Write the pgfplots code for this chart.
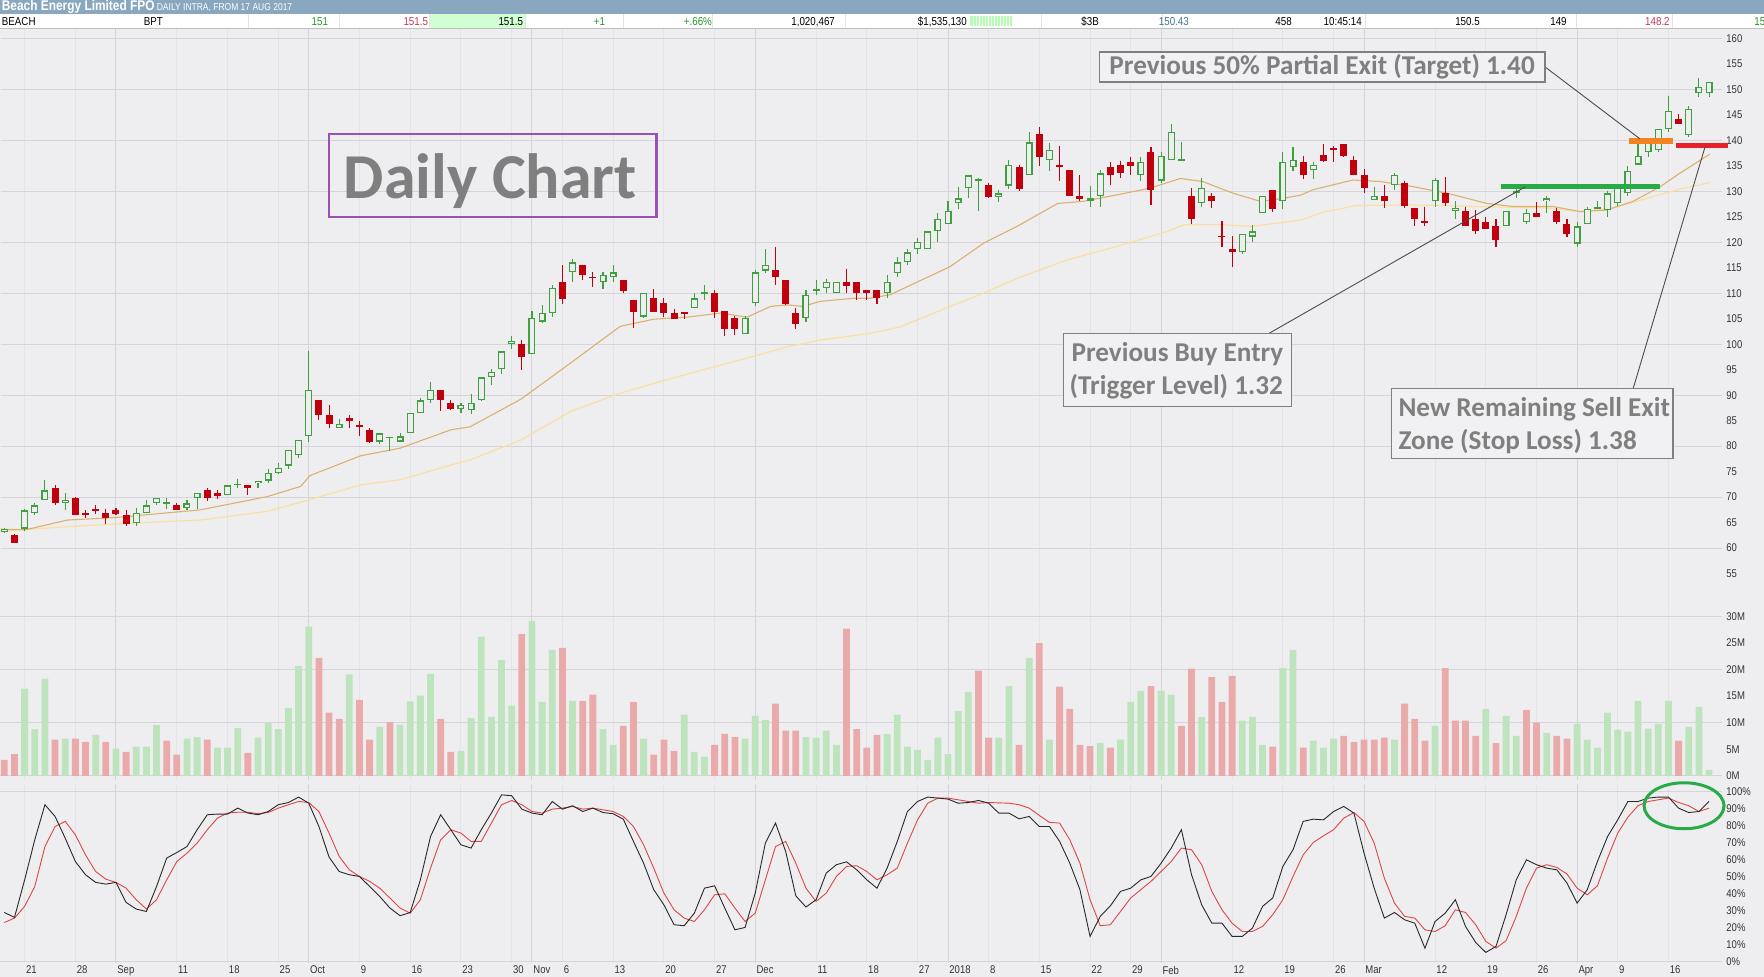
\documentclass[border=0pt]{standalone}
\usepackage{pgfplots}
\pgfplotsset{compat=1.18}
\usepackage{pgfplotstable}
\usepackage{fontspec}
\setmainfont{Liberation Sans}
\newfontfamily\nar[FakeStretch=0.85]{Liberation Sans}
\newfontfamily\calib{Carlito}

\definecolor{bg}{RGB}{238,238,241}
\definecolor{gw}{RGB}{227,227,232}
\definecolor{gm}{RGB}{212,212,218}
\definecolor{cg}{RGB}{64,160,64}
\definecolor{cr}{RGB}{192,0,12}
\definecolor{vg}{RGB}{190,228,190}
\definecolor{vr}{RGB}{234,170,170}
\definecolor{maa}{RGB}{220,176,110}
\definecolor{mab}{RGB}{250,224,160}
\definecolor{sk}{RGB}{40,40,40}
\definecolor{sd}{RGB}{222,70,70}
\definecolor{hdr}{RGB}{137,168,192}
\definecolor{ann}{RGB}{127,127,127}
\definecolor{purp}{RGB}{155,80,180}
\definecolor{gbar}{RGB}{40,170,70}
\definecolor{obar}{RGB}{245,130,32}
\definecolor{rbar}{RGB}{232,32,42}
\definecolor{tgreen}{RGB}{40,150,40}
\definecolor{tred}{RGB}{190,60,90}
\definecolor{tteal}{RGB}{60,120,140}

% i o h l c u(up candle) vu(up volume) v(volume, M) k d (stochastic %)
\pgfplotstableread{
i o h l c u vu v k d
1 63.2 64.0 63.0 63.8 1 0 3.0 28.8 22.9
2 62.6 62.8 61.0 61.0 0 0 4.1 25.9 25.5
3 63.8 67.7 63.4 67.4 1 1 16.4 48.0 32.4
4 66.8 68.8 66.4 68.4 1 1 8.8 71.6 44.1
5 69.4 73.4 69.4 71.3 1 1 18.3 92.2 67.6
6 71.75 72.3 68.4 68.8 0 0 6.8 85.3 79.4
7 68.8 70.8 67.4 69.4 1 1 7.0 72.5 82.4
8 69.8 70.0 66.4 66.4 0 0 7.0 58.8 74.5
9 66.7 67.5 66.0 66.7 0 0 6.4 51.0 62.7
10 67.5 68.4 66.7 67.5 0 1 7.7 46.5 52.9
11 66.85 67.6 64.8 65.9 0 0 6.4 45.5 48.4
12 67.5 67.8 66.5 66.7 0 1 5.1 46.5 46.5
13 66.5 67.5 64.4 64.8 0 0 4.5 34.7 43.1
14 64.9 67.8 64.4 66.85 1 1 5.5 30.8 36.3
15 66.85 69.5 66.85 68.4 1 1 5.5 29.4 30.8
16 68.8 69.8 68.5 69.8 1 1 9.6 44.1 36.3
17 68.8 69.8 67.7 68.8 1 0 6.6 60.8 48.0
18 68.5 68.8 67.4 67.4 0 0 4.0 64.1 58.8
19 67.8 69.5 67.5 68.8 1 1 7.0 67.6 63.7
20 69.8 70.8 67.7 70.8 1 1 7.3 77.5 69.6
21 71.4 71.7 69.3 69.8 0 0 6.8 86.3 77.5
22 70.9 71.4 69.6 70.3 0 1 5.3 86.7 84.3
23 70.4 72.3 70.4 72.3 1 1 5.3 86.7 87.3
24 72.5 73.6 71.75 72.5 1 1 9.0 90.2 87.8
25 72.3 72.3 70.4 71.7 0 0 4.3 87.3 87.8
26 72.7 73.25 71.7 73.25 1 1 7.2 86.3 86.9
27 73.25 75.5 72.7 74.7 1 1 10.1 88.2 87.6
28 74.7 76.65 74.5 75.8 1 1 8.8 92.2 90.2
29 76.2 79.3 75.6 79.3 1 1 12.8 93.5 92.2
30 78.2 81.2 77.6 81.2 1 1 20.7 96.7 94.1
31 81.9 98.7 80.9 91.0 1 1 28.1 93.1 93.5
32 89.0 89.0 85.2 86.1 0 0 22.2 79.4 88.2
33 86.1 88.1 83.5 84.4 0 0 11.9 61.4 75.5
34 83.5 85.4 83.5 84.4 1 0 10.7 52.9 61.8
35 85.6 86.1 83.5 85.0 0 1 19.1 51.0 53.9
36 84.0 85.0 81.9 84.0 0 0 14.3 50.0 50.0
37 83.1 83.5 80.7 80.9 0 0 6.8 44.1 47.1
38 80.9 82.5 80.4 82.5 1 1 9.2 38.2 43.1
39 81.7 81.7 79.0 81.7 1 0 10.1 31.4 37.3
40 80.9 82.5 80.9 81.9 1 1 9.6 26.9 31.4
41 82.5 86.5 82.5 86.5 1 1 14.0 28.8 28.4
42 86.5 89.4 86.5 89.0 1 1 15.1 48.0 36.3
43 89.0 92.5 88.4 91.0 1 1 19.2 73.5 54.9
44 91.0 91.0 86.9 89.0 0 0 10.7 86.3 71.6
45 88.5 89.1 87.1 87.3 0 0 4.5 77.5 77.5
46 87.3 88.4 86.5 88.1 1 1 4.7 68.6 75.5
47 87.0 90.3 86.3 88.5 1 1 10.9 66.7 70.6
48 89.0 93.5 88.8 93.5 1 1 26.2 77.5 70.6
49 93.5 95.1 92.0 94.5 1 1 11.1 87.3 81.4
50 95.1 98.6 94.2 98.6 1 1 21.8 98.0 92.2
51 100.0 101.6 99.0 100.6 1 1 13.2 97.5 94.7
52 100.0 100.8 95.0 97.4 0 0 26.7 89.6 92.2
53 98.0 106.5 98.0 105.1 1 1 29.2 87.3 88.2
54 104.4 107.7 104.1 106.1 1 1 13.9 86.3 87.3
55 106.1 111.6 105.4 111.0 1 1 23.7 94.1 89.6
56 112.2 115.5 107.9 108.9 0 0 24.1 89.6 90.2
57 114.1 116.7 112.2 116.07 1 1 14.1 91.6 91.2
58 115.5 115.5 112.5 113.5 0 0 14.1 88.2 89.6
59 113.1 114.1 111.2 113.1 0 0 15.3 90.2 90.2
60 112.2 114.1 110.8 113.6 1 1 8.8 87.6 89.2
61 113.1 115.5 112.2 114.1 1 1 5.8 86.9 88.2
62 112.6 112.6 110.0 110.4 0 0 9.4 83.7 85.3
63 108.7 108.7 103.1 106.4 0 0 13.9 70.6 79.4
64 105.4 110.0 105.1 110.0 1 1 7.0 57.8 68.6
65 109.0 110.8 106.4 106.4 0 0 4.0 42.2 54.9
66 108.0 109.0 105.4 106.1 0 0 6.8 33.3 40.2
67 106.1 106.8 104.9 104.9 0 0 4.7 21.6 30.4
68 106.1 106.1 104.9 106.1 0 1 11.5 21.0 25.5
69 107.0 110.0 107.0 109.0 1 1 4.5 28.4 23.5
70 110.0 111.6 108.7 110.0 1 1 3.6 43.1 30.4
71 110.0 110.6 105.1 106.4 0 0 5.8 44.5 39.2
72 106.5 106.5 101.6 103.0 0 0 7.9 31.4 39.8
73 105.1 105.5 101.8 103.0 0 0 7.3 18.6 31.4
74 102.0 105.5 102.0 105.1 1 1 7.0 20.0 23.5
75 108.0 114.6 107.4 114.1 1 1 11.3 40.2 28.4
76 114.4 118.7 114.0 115.5 1 1 10.5 69.6 48.0
77 114.6 119.1 111.6 113.1 0 0 13.6 81.4 67.6
78 112.6 112.6 107.7 107.9 0 0 8.5 64.7 70.6
79 106.1 107.0 103.0 104.0 0 0 8.5 38.6 57.8
80 105.1 110.6 104.4 109.6 1 1 7.3 32.0 43.1
81 110.6 112.6 109.7 110.6 1 1 7.2 36.3 35.3
82 111.0 112.8 110.0 112.2 1 1 8.5 52.0 40.2
83 110.0 112.2 110.0 112.2 1 1 5.8 56.9 50.0
84 112.2 114.8 110.0 111.5 0 0 27.7 58.6 55.9
85 112.2 112.2 108.7 110.0 0 0 8.8 53.9 56.3
86 110.65 110.65 108.7 110.0 0 0 5.3 48.0 52.9
87 110.65 110.65 107.9 109.0 0 0 7.7 43.1 48.0
88 110.0 113.6 109.0 112.15 1 1 7.9 54.9 51.0
89 114.0 117.1 113.1 116.07 1 1 11.5 70.6 54.9
90 116.07 118.6 115.5 118.0 1 1 5.5 88.2 69.6
91 118.6 120.9 117.6 120.0 1 1 4.9 94.1 83.3
92 118.6 122.15 118.6 122.15 1 1 3.0 96.7 93.1
93 122.15 125.7 120.0 124.6 1 1 7.2 96.1 96.1
94 123.5 128.1 123.5 126.1 1 1 4.1 95.5 96.1
95 127.6 130.8 126.6 128.6 1 1 12.2 93.1 95.1
96 130.6 133.1 128.6 133.1 1 1 15.8 93.5 94.1
97 132.2 132.5 126.1 132.2 1 0 19.8 94.7 93.1
98 131.2 131.6 128.6 128.9 0 0 7.2 93.1 93.5
99 128.9 130.3 127.8 129.6 1 1 7.2 87.3 93.3
100 131.1 136.1 130.5 135.2 1 1 16.9 87.3 93.1
101 134.7 135.2 130.1 130.5 0 0 5.8 83.9 92.2
102 133.1 141.6 133.1 139.6 1 1 22.2 85.3 90.2
103 141.2 142.5 135.0 136.7 0 0 25.0 79.4 85.9
104 136.1 139.5 134.0 138.1 1 1 6.8 79.4 81.8
105 135.2 138.9 132.1 134.7 0 0 16.8 70.6 81.4
106 134.2 134.2 129.0 129.0 0 0 12.6 57.8 71.6
107 129.1 133.1 128.1 128.4 0 0 5.8 42.2 57.8
108 128.1 131.1 127.0 128.6 1 0 5.6 14.7 36.3
109 129.0 134.2 127.0 133.5 1 1 6.2 26.5 21.0
110 134.7 135.7 131.2 133.1 0 0 5.3 32.7 21.6
111 135.2 136.0 132.5 133.5 0 1 6.8 41.2 29.4
112 135.7 136.8 133.1 135.0 0 1 13.9 43.1 37.3
113 133.1 136.8 132.1 135.7 1 1 16.0 48.0 42.2
114 137.6 138.6 127.2 130.3 0 0 16.9 50.0 47.1
115 132.1 137.6 131.6 137.0 1 1 16.0 57.8 52.9
116 136.1 143.1 136.1 141.6 1 1 15.3 66.7 58.8
117 136.1 139.6 136.1 136.1 1 0 9.4 77.5 66.7
118 129.1 130.6 123.5 124.5 0 0 20.2 51.0 65.7
119 127.6 132.5 127.0 130.6 1 1 11.1 33.3 56.9
120 129.1 129.6 126.7 128.0 0 0 18.6 22.5 41.2
121 121.1 124.2 119.0 121.1 0 0 13.9 22.5 30.4
122 118.6 121.2 115.1 118.0 0 0 18.8 14.7 22.5
123 118.0 121.6 117.6 121.6 1 1 10.4 14.7 17.6
124 121.1 123.3 120.0 122.15 1 1 11.1 19.6 17.6
125 125.7 129.1 125.7 129.1 1 1 5.8 32.4 20.6
126 130.3 130.3 126.0 126.5 0 0 5.5 37.3 27.5
127 128.1 137.6 126.5 135.7 1 1 20.3 55.9 36.3
128 134.7 138.6 134.0 136.1 1 1 23.7 65.7 50.0
129 135.7 137.0 132.4 133.1 0 0 5.3 82.4 62.7
130 134.2 135.7 132.4 135.2 1 1 6.6 83.7 70.0
131 137.1 139.2 135.7 136.0 0 1 5.3 83.3 73.9
132 138.3 138.8 135.7 138.3 0 1 7.0 88.2 77.5
133 139.2 139.2 136.7 137.0 0 0 7.5 91.2 84.3
134 136.1 137.0 133.1 133.1 0 0 6.4 87.3 87.6
135 133.2 134.3 129.6 130.6 0 0 6.8 63.7 82.4
136 128.2 130.9 128.2 129.1 1 0 6.8 43.1 69.6
137 129.1 131.2 126.7 128.1 0 0 7.2 25.5 49.0
138 131.2 133.5 130.3 133.2 1 1 6.8 28.8 34.3
139 131.7 132.1 126.7 127.1 0 0 13.6 24.5 26.5
140 126.7 126.7 123.2 124.5 0 0 10.7 22.5 25.5
141 124.0 127.0 123.2 124.0 0 0 6.6 7.8 18.6
142 128.0 132.5 127.0 132.2 1 1 9.4 23.5 17.6
143 129.6 132.7 127.1 127.6 0 0 20.3 28.4 21.0
144 126.1 128.0 124.5 126.7 1 0 10.4 36.3 30.4
145 126.1 127.0 123.1 123.1 0 0 10.4 20.6 28.8
146 124.5 126.3 121.6 122.1 0 0 7.5 11.2 21.6
147 124.0 125.0 122.5 122.5 0 1 12.6 5.3 11.8
148 123.1 124.5 119.0 120.5 0 0 6.2 8.8 7.8
149 123.2 126.1 123.2 126.1 1 1 11.3 27.5 12.2
150 129.6 130.5 128.6 130.0 1 1 7.5 48.0 26.5
151 124.0 126.5 123.6 125.8 1 0 12.4 59.8 43.1
152 125.8 127.8 125.0 125.0 0 0 10.0 56.9 54.9
153 128.0 129.1 125.8 128.6 1 1 8.1 54.9 56.9
154 126.1 126.7 123.6 124.0 0 0 7.5 53.9 55.3
155 123.6 124.5 121.1 121.6 0 0 7.0 46.1 51.4
156 119.7 124.0 119.0 123.1 1 1 9.8 34.3 43.1
157 123.6 127.0 123.6 126.5 1 1 6.8 42.2 39.2
158 126.5 128.0 126.5 127.0 1 1 5.3 58.8 44.5
159 126.3 130.1 125.0 129.6 1 1 11.9 73.5 60.8
160 127.6 130.9 127.1 130.6 1 1 8.7 83.3 75.5
161 129.6 134.9 129.1 134.0 1 1 8.3 94.1 84.9
162 135.2 139.4 135.2 137.0 1 1 14.1 94.1 91.6
163 137.6 140.1 136.7 140.1 1 1 8.9 96.1 94.1
164 138.1 142.2 137.6 142.2 1 1 9.8 96.7 95.1
165 142.2 148.7 141.7 145.7 1 1 14.1 96.7 96.1
166 144.1 145.2 143.1 143.1 0 0 6.6 90.2 93.5
167 141.0 146.7 140.6 146.1 1 1 9.2 87.6 91.6
168 149.2 152.2 148.4 150.5 1 1 13.0 88.2 88.2
169 149.2 151.5 148.4 151.5 1 1 1.1 94.1 90.2
}\candles

\pgfplotstableread{
i v
0.6 63.7
3.1 63.6
7.2 65.5
12 66.0
20.3 67.5
26.9 70.1
30.2 72.1
31.1 74.2
36.1 78.1
40 79.6
45 83.2
46.9 83.8
51.9 89.2
56.8 96.3
61.7 103.5
65 104.9
68.3 105.3
71.6 106.1
74.2 105.3
76.5 107.4
78.2 107.7
79.7 107.4
81.4 108.4
84.7 109.0
86.3 109.0
88.3 109.7
94.2 115.2
97.5 119.8
100.8 123.1
104.8 127.6
107.3 128.0
110.7 129.3
113.9 130.6
116.9 132.5
119.1 131.9
122.1 129.6
124.8 128.0
127 128.6
128.7 129.2
130 130.3
133.9 132.2
136.6 131.9
139.8 130.9
143.2 129.6
147.1 127.6
149.7 127.0
153.6 127.0
156.3 126.0
158.9 126.3
161.5 128.0
164.2 130.9
166.1 133.5
169.1 137.3
}\maone

\pgfplotstableread{
i v
0.6 63.3
7.2 64.2
13.7 64.9
20.3 65.5
26.9 67.2
31.1 69.5
36.1 72.4
40 73.4
45 76.3
46.9 77.3
51.9 81.2
56.8 86.8
61.7 90.4
65 92.3
69.9 95.0
74.8 97.6
78.2 99.5
81.4 100.8
86.3 102.1
89.3 103.4
94.2 107.4
97.5 110.0
100.8 112.9
105.7 116.5
110.7 119.2
115.6 122.1
117.2 123.4
120.5 123.5
123.8 123.1
128.7 124.3
131 125.9
134.3 127.2
139.8 127.3
146.4 127.0
153 126.7
156.3 126.0
159.5 126.7
162.9 128.6
166.1 130.4
169.1 131.7
}\matwo

\pgfplotsset{
  pane/.style={scale only axis, width=861pt, xmin=0.621, xmax=170.28,
    anchor=south west,
    axis line style={draw=none}, major tick length=0pt, minor tick length=0pt,
    xtick={3,8,18,23,28,36,41,46,51,56,61,66,71,81,86,91,98,103,108,112,122,127,132,142,147,152,160,165},
    xmajorgrids, major grid style={draw=gw, line width=0.5pt},
    extra x ticks={12,31,53,75,94,115,135,156},
    extra x tick style={grid=major, major grid style={draw=gm, line width=0.5pt}},
    yticklabel pos=right,
    ticklabel style={font=\nar\fontsize{5.6pt}{6pt}\selectfont, text=black!80},
    yticklabel style={anchor=west, inner sep=0pt, xshift=2pt},
    /pgf/number format/assume math mode=true,
    clip=true},
  upc/.style={restrict expr to domain={\thisrow{u}}{0.5:1.5}, unbounded coords=discard},
  dnc/.style={restrict expr to domain={\thisrow{u}}{-0.5:0.5}, unbounded coords=discard},
  nomark/.style={only marks, mark=*, mark size=0pt, mark options={draw=none, fill=none}},
}

\begin{document}
\begin{tikzpicture}
\begin{scope}[x=0.5pt,y=0.5pt]
\path[use as bounding box] (0,0) rectangle (1764,977);
\fill[bg] (0,0) rectangle (1764,949);
\fill[white] (0,949) rectangle (1764,963);
\fill[hdr] (0,963) rectangle (1764,977);
\draw[black!25, line width=0.4pt] (0,949) -- (1764,949);
% header row cells
\fill[green!18!white] (429,949) rectangle (525,963);
\fill[green!30!white] (970,951) rectangle (1012,961);
\foreach \xx in {973,976,...,1010} \draw[white, line width=0.3pt] (\xx,951) -- (\xx,961);
\foreach \xx in {248,339,429,525,623,712,845,1041,1162,1365,1576,1672}
  \draw[black!10, line width=0.4pt] (\xx,949) -- (\xx,963);
\node[anchor=base west, inner sep=0pt, text=white, font=\nar\bfseries\fontsize{7pt}{8pt}\selectfont] at (1,966) {Beach Energy Limited FPO};
\node[anchor=base west, inner sep=0pt, text=white, font=\nar\fontsize{5pt}{6pt}\selectfont] at (156,966) {DAILY INTRA, FROM 17 AUG 2017};
\begin{scope}[every node/.style={inner sep=0pt, font=\nar\fontsize{5.75pt}{6pt}\selectfont}]
\node[anchor=base west] at (1,951) {BEACH};
\node[anchor=base west] at (143,951) {BPT};
\node[anchor=base east, text=tgreen] at (328,951) {151};
\node[anchor=base east, text=tred] at (428,951) {151.5};
\node[anchor=base east] at (523,951) {151.5};
\node[anchor=base east, text=tgreen] at (605,951) {+1};
\node[anchor=base east, text=tgreen] at (712,951) {+.66\%};
\node[anchor=base east] at (835,951) {1,020,467};
\node[anchor=base east] at (967,951) {\$1,535,130};
\node[anchor=base east] at (1099,951) {\$3B};
\node[anchor=base east, text=tteal] at (1189,951) {150.43};
\node[anchor=base east] at (1292,951) {458};
\node[anchor=base east] at (1362,951) {10:45:14};
\node[anchor=base east] at (1480,951) {150.5};
\node[anchor=base east] at (1567,951) {149};
\node[anchor=base east, text=tred] at (1670,951) {148.2};
\node[anchor=base west, text=tgreen] at (1754,951) {151.5};
\end{scope}
\end{scope}

% ---------------- price pane
\begin{axis}[pane, at={(0pt,182pt)}, height=292pt, ymin=47.31, ymax=161.82,
  ytick={55,60,...,160}, xticklabels={}, extra x tick labels={},
  extra y ticks={60,70,...,160}, extra y tick labels={},
  extra y tick style={grid=major, major grid style={draw=gm, line width=0.5pt}}]
\addplot[mab, line width=0.6pt, mark=none] table[x=i,y=v]{\matwo};
\addplot[maa, line width=0.55pt, mark=none] table[x=i,y=v]{\maone};
% wicks
\addplot[nomark, upc, error bars/.cd, y dir=minus, y explicit, error mark=none,
  error bar style={line width=0.55pt, draw=cg}]
  table[x=i, y=h, y error minus expr={\thisrow{h}-\thisrow{l}}]{\candles};
\addplot[nomark, dnc, error bars/.cd, y dir=minus, y explicit, error mark=none,
  error bar style={line width=0.55pt, draw=cr}]
  table[x=i, y=h, y error minus expr={\thisrow{h}-\thisrow{l}}]{\candles};
% bodies
\addplot[nomark, upc, error bars/.cd, y dir=plus, y explicit, error mark=none,
  error bar style={line width=3.5pt, draw=cg}]
  table[x=i, y expr={abs(\thisrow{c}-\thisrow{o})<0.3 ? (\thisrow{o}+\thisrow{c})/2-0.15 : min(\thisrow{o},\thisrow{c})},
        y error plus expr={max(abs(\thisrow{c}-\thisrow{o}),0.3)}]{\candles};
\addplot[nomark, upc, error bars/.cd, y dir=plus, y explicit, error mark=none,
  error bar style={line width=2.3pt, draw=bg}]
  table[x=i, y expr={min(\thisrow{o},\thisrow{c})+0.25},
        y error plus expr={max(abs(\thisrow{c}-\thisrow{o})-0.5,0)}]{\candles};
\addplot[nomark, dnc, error bars/.cd, y dir=plus, y explicit, error mark=none,
  error bar style={line width=3.5pt, draw=cr}]
  table[x=i, y expr={abs(\thisrow{c}-\thisrow{o})<0.3 ? (\thisrow{o}+\thisrow{c})/2-0.15 : min(\thisrow{o},\thisrow{c})},
        y error plus expr={max(abs(\thisrow{c}-\thisrow{o}),0.3)}]{\candles};
\end{axis}

% ---------------- volume pane
\begin{axis}[pane, at={(0pt,98.5pt)}, height=83pt, ymin=-0.75, ymax=30.51,
  ytick={0,5,...,30}, yticklabels={0M,5M,10M,15M,20M,25M,30M},
  xticklabels={}, extra x tick labels={},
  extra y ticks={0,10,20,30}, extra y tick labels={},
  extra y tick style={grid=major, major grid style={draw=gm, line width=0.5pt}}]
\addplot[ybar, bar width=3.4pt, bar shift=0pt, fill=vg, draw=none,
  restrict expr to domain={\thisrow{vu}}{0.5:1.5}, unbounded coords=discard]
  table[x=i, y=v]{\candles};
\addplot[ybar, bar width=3.4pt, bar shift=0pt, fill=vr, draw=none,
  restrict expr to domain={\thisrow{vu}}{-0.5:0.5}, unbounded coords=discard]
  table[x=i, y=v]{\candles};
\end{axis}

% ---------------- stochastic pane
\begin{axis}[pane, at={(0pt,7pt)}, height=89.5pt, ymin=-0.76, ymax=104.53,
  ytick={0,10,...,100}, yticklabels={0\%,10\%,20\%,30\%,40\%,50\%,60\%,70\%,80\%,90\%,100\%},
  xticklabels={21,28,11,18,25,9,16,23,30,6,13,20,27,11,18,27,8,15,22,29,12,19,26,12,19,26,9,16},
  extra x tick labels={Sep,Oct,Nov,Dec,2018,Feb,Mar,Apr},
  xticklabel style={anchor=north west, inner sep=0pt, yshift=-1.5pt, xshift=0.5pt},
  extra y ticks={0,100}, extra y tick labels={},
  extra y tick style={grid=major, major grid style={draw=gm, line width=0.5pt}}]
\addplot[sd, line width=0.45pt, mark=none] table[x=i, y=d]{\candles};
\addplot[sk, line width=0.45pt, mark=none] table[x=i, y=k]{\candles};
\end{axis}

% ---------------- annotations
\begin{scope}[x=0.5pt,y=0.5pt]
\draw[gbar, line width=2.5pt] (1501,790.5) -- (1660,790.5);
\draw[obar, line width=3pt] (1629,836) -- (1673,836);
\draw[rbar, line width=2.5pt] (1676,831.5) -- (1728,831.5);

\draw[black!70, line width=0.45pt] (1545,910) -- (1640,838);
\draw[black!70, line width=0.45pt] (1268,643) -- (1525,790);
\draw[black!70, line width=0.45pt] (1633,588) -- (1705,830);

\draw[purp, line width=1.25pt] (328.5,760) rectangle (656,843);
\node[anchor=base, inner sep=0pt, text=ann, font=\calib\bfseries\fontsize{32pt}{36pt}\selectfont] at (490,778) {Daily Chart};

\begin{scope}[every node/.style={inner sep=0pt, text=ann, font=\calib\bfseries\fontsize{13.6pt}{15.75pt}\selectfont}]
\draw[ann, line width=0.6pt, fill={rgb,255:red,241;green,241;blue,243}] (1099,895) rectangle (1545,925);
\node[anchor=base] at (1322,902) {Previous 50\% Partial Exit (Target) 1.40};
\draw[ann, line width=0.6pt, fill={rgb,255:red,241;green,241;blue,243}] (1063,570) rectangle (1291.5,643);
\node[anchor=base west] at (1071,615) {Previous Buy Entry};
\node[anchor=base west] at (1069,582) {(Trigger Level) 1.32};
\draw[ann, line width=0.6pt, fill={rgb,255:red,241;green,241;blue,243}] (1391.6,518) rectangle (1673,588);
\node[anchor=base west] at (1398,560) {New Remaining Sell Exit};
\node[anchor=base west] at (1398,527) {Zone (Stop Loss) 1.38};
\end{scope}

\draw[gbar, line width=1.5pt] (1684,171) ellipse [x radius=20pt, y radius=11.5pt];
\end{scope}
\end{tikzpicture}
\end{document}
